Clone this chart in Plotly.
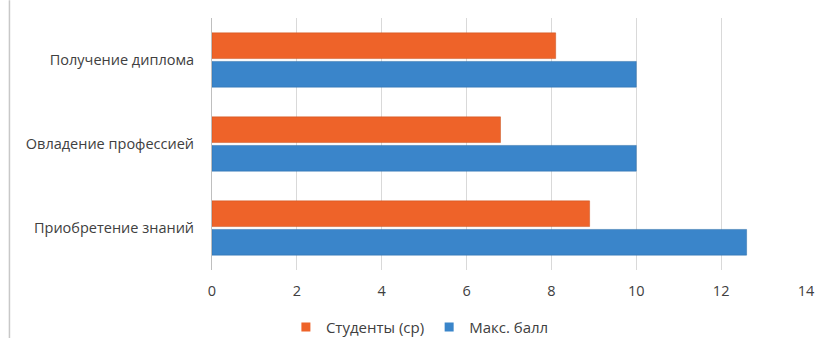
import plotly.graph_objects as go

categories = ['Приобретение знаний', 'Овладение профессией', 'Получение диплома']
max_score = [12.6, 10.0, 10.0]
students_avg = [8.9, 6.8, 8.1]
x_ticks = [0, 2, 4, 6, 8, 10, 12, 14]

BLUE = '#3A85CA'
ORANGE = '#EE6329'

fig = go.Figure()
fig.add_trace(go.Bar(
    y=categories, x=max_score, name='Макс. балл', orientation='h', showlegend=False,
    marker=dict(color=BLUE, line=dict(color='#2F6EA8', width=0.5)),
))
fig.add_trace(go.Bar(
    y=categories, x=students_avg, name='Студенты (ср)', orientation='h', showlegend=False,
    marker=dict(color=ORANGE, line=dict(color='#C9521F', width=0.5)),
))
# small square legend markers, like the original
for name, col in [('Студенты (ср)', ORANGE), ('Макс. балл', BLUE)]:
    fig.add_trace(go.Scatter(x=[None], y=[None], mode='markers', name=name,
                             marker=dict(symbol='square', size=9, color=col)))

fig.update_layout(
    width=827, height=339,
    margin=dict(l=212, r=21, t=18, b=69),
    barmode='group', bargap=0.32, bargroupgap=0.1,
    plot_bgcolor='white', paper_bgcolor='white',
    font=dict(family='Open Sans, Noto Sans, sans-serif', size=14.5, color='#404040'),
    legend=dict(orientation='h', x=0.35, y=0.035, xref='paper', yref='container',
                xanchor='center', yanchor='middle', itemwidth=30,
                font=dict(size=15)),
    xaxis=dict(range=[0, 14], tickvals=x_ticks, showgrid=True, gridcolor='#D9D9D9',
               gridwidth=1, zeroline=False, showline=False, ticklabelstandoff=10,
               automargin=False),
    yaxis=dict(showgrid=False, showline=True, linecolor='#BFBFBF', linewidth=1,
               ticks='', ticklabelstandoff=14, automargin=False),
)
# outer chart border on the left
fig.add_shape(type='line', xref='paper', yref='paper', x0=-0.341, x1=-0.341, y0=-0.27, y1=1.07,
              line=dict(color='#C8C8C8', width=1.5))

fig.write_html('out.html', config={'displayModeBar': False},
               post_script="document.body.style.margin='0';")
